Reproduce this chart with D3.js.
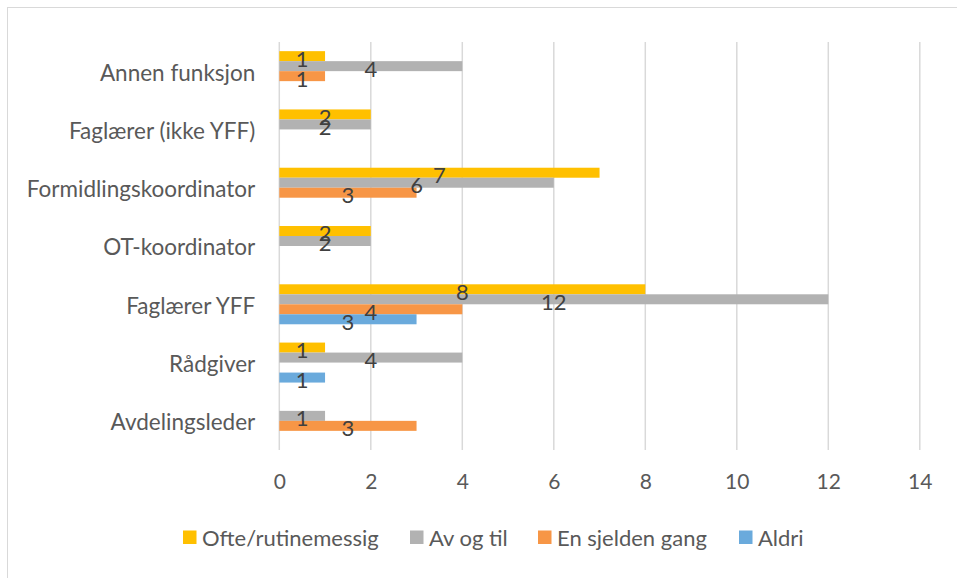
<!DOCTYPE html>
<html>
<head>
<meta charset="utf-8">
<script src="https://cdn.jsdelivr.net/npm/d3@7"></script>
<style>
  html, body { margin: 0; padding: 0; background: #fff; }
  svg { display: block; font-family: Lato, "Open Sans", sans-serif; }
</style>
</head>
<body>
<svg id="chart" width="957" height="578"></svg>
<script>
// Roles, top to bottom
const categories = [
  "Annen funksjon",
  "Faglærer (ikke YFF)",
  "Formidlingskoordinator",
  "OT-koordinator",
  "Faglærer YFF",
  "Rådgiver",
  "Avdelingsleder"
];
const seriesNames = ["Ofte/rutinemessig", "Av og til", "En sjelden gang", "Aldri"];
const seriesColors = ["#ffc000", "#b2b2b2", "#f79646", "#6aaadc"];

// Counts per role for each answer (0 = no answers, no bar drawn)
const ofte        = [1, 2, 7, 2, 8, 1, 0];
const avOgTil     = [4, 2, 6, 2, 12, 4, 1];
const sjeldenGang = [1, 0, 3, 0, 4, 0, 3];
const aldri       = [0, 0, 0, 0, 3, 1, 0];
const seriesValues = [ofte, avOgTil, sjeldenGang, aldri];

const xTicks = [0, 2, 4, 6, 8, 10, 12, 14];

const svg = d3.select("#chart");

// Chart frame
svg.append("rect")
  .attr("x", 7.5).attr("y", 7.5)
  .attr("width", 1000).attr("height", 1000)
  .attr("fill", "none").attr("stroke", "#d9d9d9").attr("stroke-width", 1);

const plot = { left: 279.3, right: 919.8, top: 42, bottom: 450 };

const x = d3.scaleLinear().domain([0, 14]).range([plot.left, plot.right]);

const y = d3.scaleBand()
  .domain(categories)
  .range([plot.top, plot.bottom])
  .paddingInner(0.314)
  .paddingOuter(0.157);

const ySeries = d3.scaleBand()
  .domain(seriesNames)
  .range([0, y.bandwidth()])
  .padding(0);

// Vertical gridlines
svg.append("g")
  .selectAll("line")
  .data(xTicks)
  .join("line")
  .attr("x1", d => x(d)).attr("x2", d => x(d))
  .attr("y1", plot.top).attr("y2", plot.bottom)
  .attr("stroke", "#d9d9d9").attr("stroke-width", 1.5);

// X axis tick labels
const xAxis = d3.axisBottom(x).tickValues(xTicks).tickSize(0).tickPadding(0);
const gx = svg.append("g")
  .attr("transform", `translate(0, ${plot.bottom + 32})`)
  .call(xAxis);
gx.select(".domain").remove();
gx.selectAll("text")
  .attr("dy", "0.35em")
  .attr("fill", "#595959")
  .style("font-size", "21px")
  .style("font-family", "Lato, sans-serif");

// Category labels
const yAxis = d3.axisLeft(y).tickSize(0).tickPadding(0);
const gy = svg.append("g")
  .attr("transform", `translate(${plot.left - 24}, 1.5)`)
  .call(yAxis);
gy.select(".domain").remove();
gy.selectAll("text")
  .attr("dy", "0.35em")
  .attr("fill", "#595959")
  .style("font-size", "22.5px")
  .style("font-family", "Lato, sans-serif");

// Bars
const rows = [];
seriesNames.forEach((s, si) => {
  categories.forEach((c, ci) => {
    const v = seriesValues[si][ci];
    if (v > 0) rows.push({ cat: c, series: s, si, value: v });
  });
});

svg.append("g")
  .selectAll("rect")
  .data(rows)
  .join("rect")
  .attr("x", x(0))
  .attr("y", d => y(d.cat) + ySeries(d.series))
  .attr("width", d => x(d.value) - x(0))
  .attr("height", ySeries.bandwidth())
  .attr("fill", d => seriesColors[d.si]);

// Data labels, centred on each bar
svg.append("g")
  .selectAll("text")
  .data(rows)
  .join("text")
  .attr("x", d => (x(0) + x(d.value)) / 2)
  .attr("y", d => y(d.cat) + ySeries(d.series) + ySeries.bandwidth() / 2 + 2.5)
  .attr("dy", "0.36em")
  .attr("text-anchor", "middle")
  .attr("fill", "#404040")
  .style("font-size", "22px")
  .text(d => d.value);

// Legend
const legendX = [183, 410, 538, 739];
const legend = svg.append("g")
  .selectAll("g")
  .data(seriesNames)
  .join("g")
  .attr("transform", (d, i) => `translate(${legendX[i]}, 530.5)`);
legend.append("rect")
  .attr("width", 13.5).attr("height", 13.5)
  .attr("fill", (d, i) => seriesColors[i]);
legend.append("text")
  .attr("x", 19).attr("y", 7.5)
  .attr("dy", "0.36em")
  .attr("fill", "#595959")
  .style("font-size", "22px")
  .text(d => d);
</script>
</body>
</html>
